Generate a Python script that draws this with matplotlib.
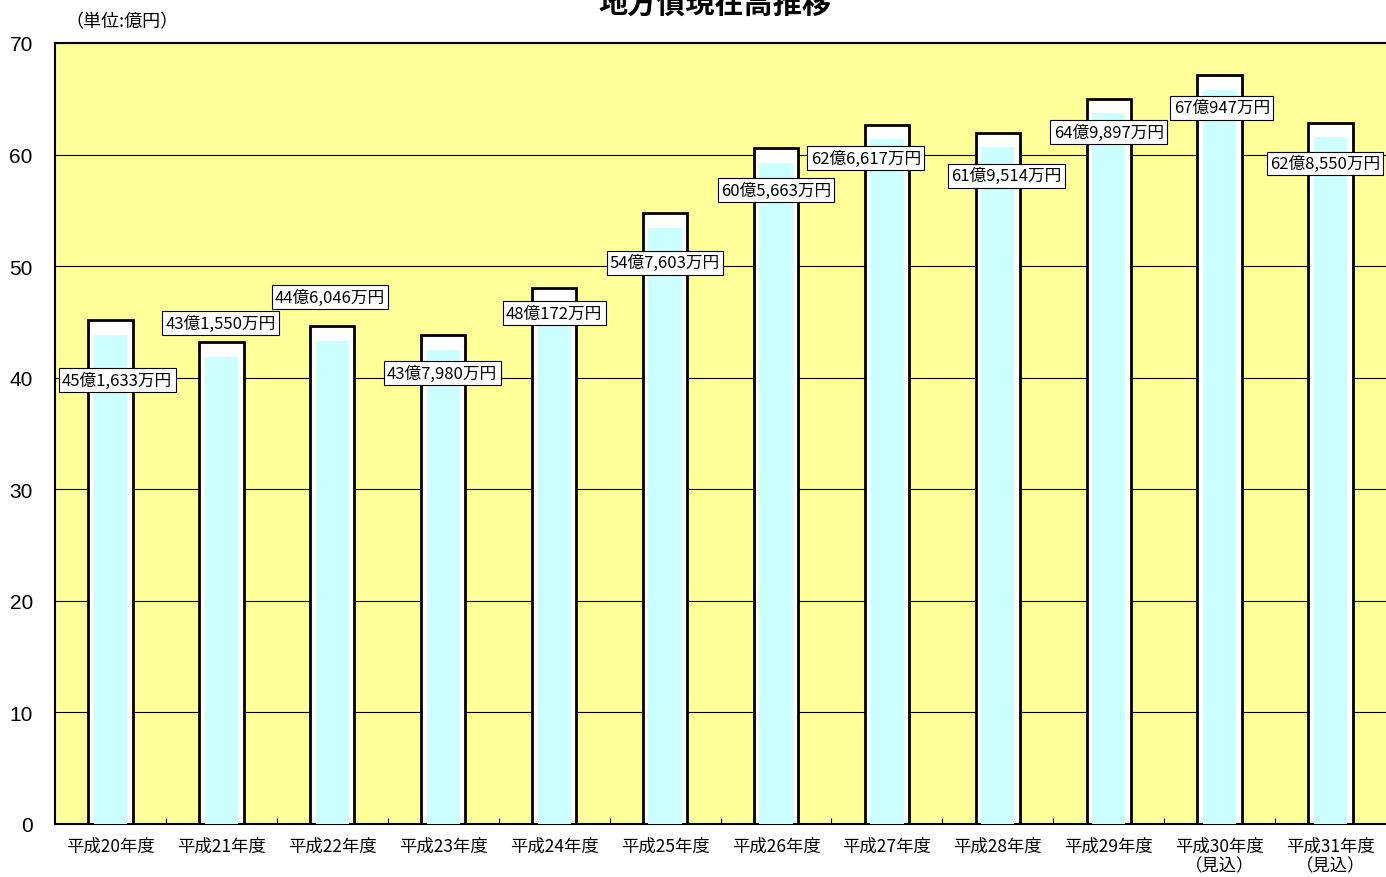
import numpy as np
import matplotlib.pyplot as plt

plt.rcParams['font.family'] = ['Noto Sans CJK JP', 'DejaVu Sans']

# data (億円)
years = ['平成20年度', '平成21年度', '平成22年度', '平成23年度', '平成24年度', '平成25年度',
         '平成26年度', '平成27年度', '平成28年度', '平成29年度', '平成30年度\n（見込）', '平成31年度\n（見込）']
values = [45.1633, 43.1550, 44.6046, 43.7980, 48.0172, 54.7603,
          60.5663, 62.6617, 61.9514, 64.9897, 67.0947, 62.8550]
labels = ['45億1,633万円', '43億1,550万円', '44億6,046万円', '43億7,980万円', '48億172万円', '54億7,603万円',
          '60億5,663万円', '62億6,617万円', '61億9,514万円', '64億9,897万円', '67億947万円', '62億8,550万円']
# label box placement (layout)
label_y = [39.8, 44.9, 47.2, 40.4, 45.8, 50.3, 56.8, 59.7, 58.1, 62.0, 64.2, 59.2]
label_dx = [0.06, -0.01, -0.02, -0.01, 0.0, 0.0, 0.0, -0.19, 0.08, 0.0, 0.02, -0.05]

fig = plt.figure(figsize=(13.86, 8.78), dpi=100)
ax = fig.add_axes([0.0397, 0.0604, 0.9603, 0.8895])
ax.set_facecolor('#FFFF99')

x = np.arange(len(values))
ax.set_axisbelow(True)
ax.yaxis.grid(True, color='black', linewidth=0.8)
ax.bar(x, values, width=0.4, color='white', edgecolor='black', linewidth=2, zorder=2)
ax.bar(x, np.array(values) - 1.3, width=0.3, color='#CCFFFF', linewidth=0, zorder=3)

for i, (v, t) in enumerate(zip(values, labels)):
    ax.text(x[i] + label_dx[i], label_y[i], t, ha='center', va='center', fontsize=12, zorder=5,
            bbox=dict(boxstyle='square,pad=0.2', facecolor='white', edgecolor='black', linewidth=0.8))

ax.set_xlim(-0.5, len(values) - 0.5)
ax.set_ylim(0, 70)
ax.set_yticks(range(0, 71, 10))
ax.tick_params(axis='y', length=0, labelsize=15, pad=16)
for lab in ax.get_yticklabels():
    lab.set_fontfamily(['Liberation Sans', 'DejaVu Sans'])
ax.set_xticks(x)
ax.set_xticklabels(years, fontsize=12.5, linespacing=1.1)
ax.tick_params(axis='x', length=0, pad=9)
ax.set_xticks(np.arange(0.5, len(values) - 0.5), minor=True)
ax.tick_params(axis='x', which='minor', direction='in', length=4, width=0.8)

for s in ['left', 'top', 'bottom']:
    ax.spines[s].set_linewidth(1.5)
ax.spines['right'].set_visible(False)

fig.text(0.0469, 0.975, '（単位:億円）', fontsize=13, va='center', ha='left')
fig.text(0.516, 0.996, '地方債現在高推移', fontsize=21, fontweight='bold', ha='center', va='center')

fig.savefig('out.png', dpi=100)
